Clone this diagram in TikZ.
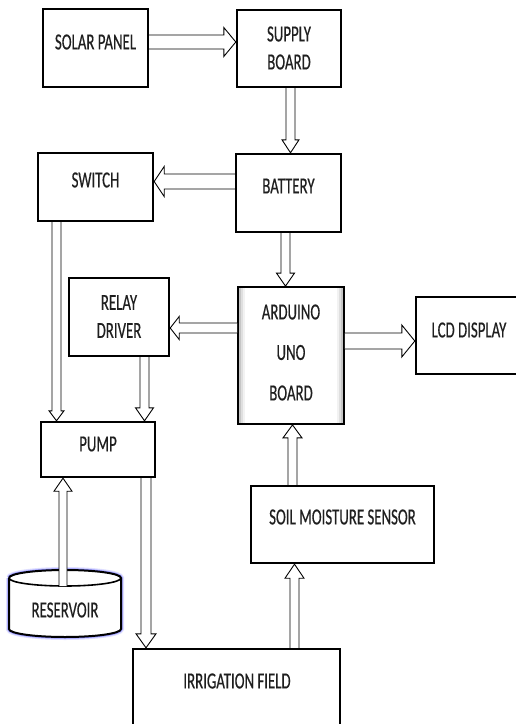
\documentclass[tikz,border=0pt]{standalone}
\usepackage{fontspec}
\setmainfont{Carlito}[FakeStretch=0.645,FakeBold=0.4]
\usetikzlibrary{calc}
\tikzset{
  box/.style={draw=black, line width=2.4pt, fill=white, inner sep=0pt},
  lbl/.style={inner sep=0pt, text=black!88, align=center, font=\fontsize{23}{28}\selectfont},
  arrowline/.style={draw=black, line width=0.9pt, fill=white, line join=miter}
}
\newcommand\barrow[5]{%
  \path (#1) coordinate (ba-s) (#2) coordinate (ba-t);
  \path ($(ba-t)!#5pt!(ba-s)$) coordinate (ba-q);
  \draw[arrowline] ($(ba-s)!#3pt!90:(ba-t)$) -- ($(ba-q)!#3pt!90:(ba-t)$) -- ($(ba-q)!#4pt!90:(ba-t)$) -- (ba-t) -- ($(ba-q)!#4pt!-90:(ba-t)$) -- ($(ba-q)!#3pt!-90:(ba-t)$) -- ($(ba-s)!#3pt!-90:(ba-t)$);}
\begin{document}
\begin{tikzpicture}[x=1pt,y=-1pt]
\useasboundingbox (0,0) rectangle (516,724);
\clip (0,0) rectangle (516,724);
\fill[white] (0,0) rectangle (516,724);
% boxes
\node[box, minimum width=105, minimum height=78] (solar) at (95.5,48) {};
\node[box, minimum width=104, minimum height=77] (supply) at (289,48.5) {};
\node[box, minimum width=115, minimum height=68] (switch) at (95.5,187) {};
\node[box, minimum width=105, minimum height=78] (battery) at (288.5,193) {};
\node[box, minimum width=100, minimum height=78] (relay) at (119,317) {};
\node[box, line width=1.8pt, minimum width=106, minimum height=137,
  path picture={
    \draw[gray!45, line width=2pt] ($(path picture bounding box.south west)+(2,2)$) rectangle ($(path picture bounding box.north east)+(-2,-2)$);
    \draw[gray!25, line width=2pt] ($(path picture bounding box.south west)+(4,4)$) rectangle ($(path picture bounding box.north east)+(-4,-4)$);
    \draw[gray!10, line width=2pt] ($(path picture bounding box.south west)+(6,6)$) rectangle ($(path picture bounding box.north east)+(-6,-6)$);
  }] (arduino) at (291,355.5) {};
\node[box, minimum width=124, minimum height=77] (lcd) at (478,335.5) {};
\node[box, minimum width=114, minimum height=55] (pump) at (98,449.5) {};
\node[box, minimum width=183, minimum height=77] (sensor) at (342.5,524.5) {};
\node[box, minimum width=207, minimum height=111] (field) at (236.5,704.5) {};
% reservoir cylinder
\foreach \lw/\col in {6/blue!12, 4/blue!25, 2.8/blue!45} {
  \draw[\col, line width=\lw pt] (9,578) -- (9,629) arc[start angle=180, end angle=0, x radius=56, y radius=8] -- (121,578) arc[start angle=0, end angle=-180, x radius=56, y radius=8];
}
\draw[line width=2pt, fill=white] (9,578) -- (9,629) arc[start angle=180, end angle=0, x radius=56, y radius=8] -- (121,578) arc[start angle=0, end angle=-180, x radius=56, y radius=8];
\draw[line width=1.6pt] (9,578) arc[start angle=180, end angle=0, x radius=56, y radius=8];
\coordinate (resin) at (63,586);
% labels
\node[lbl] (solar-t) at (95.5,42) {SOLAR PANEL};
\node[lbl] (supply-t) at (289,48) {SUPPLY\\BOARD};
\node[lbl] (switch-t) at (95.5,180) {SWITCH};
\node[lbl] (battery-t) at (288.5,186) {BATTERY};
\node[lbl] (relay-t) at (119,316.5) {RELAY\\DRIVER};
\node[lbl, font=\fontsize{23}{40.5}\selectfont] (arduino-t) at (291,352.5) {ARDUINO\\UNO\\BOARD};
\node[lbl] (lcd-t) at (469,330) {LCD DISPLAY};
\node[lbl] (pump-t) at (98,444) {PUMP};
\node[lbl] (sensor-t) at (342.5,517) {SOIL MOISTURE SENSOR};
\node[lbl] (reservoir) at (65,610) {RESERVOIR};
\node[lbl] (field-t) at (237,681) {IRRIGATION FIELD};
% arrows
\barrow{solar.east |- 0,42}{supply.west |- 0,42}{7}{14.5}{12}
\barrow{supply.south -| 290.5,0}{battery.north -| 290.5,0}{4.5}{8.5}{13}
\barrow{battery.west |- 0,181.5}{switch.east |- 0,181.5}{7.5}{15}{10}
\barrow{switch.south -| 56.5,0}{pump.north -| 56.5,0}{4.5}{7.5}{10}
\barrow{battery.south -| 285.5,0}{arduino.north -| 285.5,0}{4.5}{9}{13}
\barrow{arduino.west |- 0,328}{relay.east |- 0,328}{5}{11.5}{9}
\barrow{arduino.east |- 0,341}{lcd.west |- 0,341}{8}{16}{13}
\barrow{relay.south -| 144.5,0}{pump.north -| 144.5,0}{4.5}{9}{13}
\barrow{sensor.north -| 292.5,0}{arduino.south -| 292.5,0}{4.5}{9.5}{13}
\barrow{field.north -| 294.5,0}{sensor.south -| 294.5,0}{4.5}{9.5}{14}
\barrow{pump.south -| 146,0}{field.north -| 146,0}{5}{10}{14}
\barrow{resin}{pump.south -| 63,0}{4}{9}{13}
\end{tikzpicture}
\end{document}
